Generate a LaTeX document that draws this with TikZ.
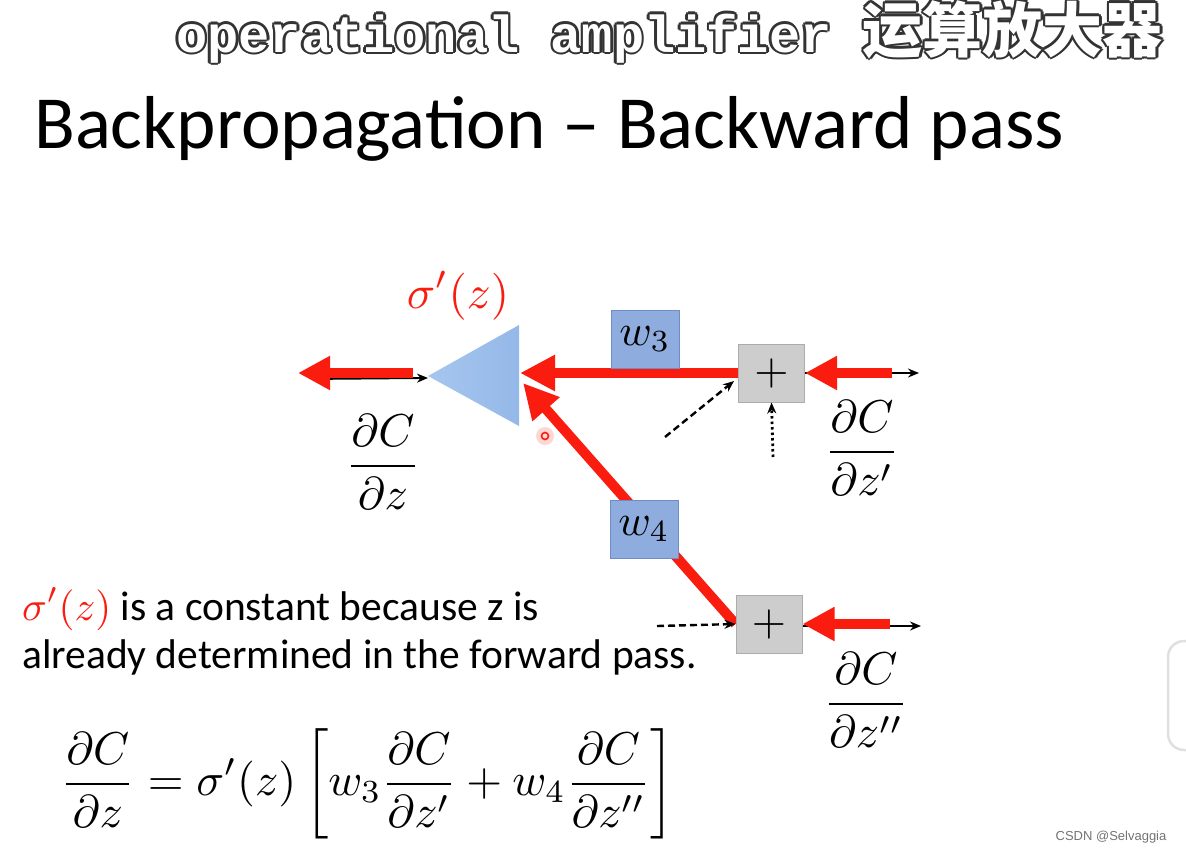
\documentclass[tikz,border=0pt]{standalone}
\usepackage{amsmath}
\usepackage{graphicx}
\usepackage{fontspec}
\setmainfont{Carlito}
\newfontfamily\hdrmono{Liberation Mono}
\newfontfamily\cjk{Noto Sans CJK SC}
\newfontfamily\wmfont{Liberation Sans}
\usetikzlibrary{arrows.meta,backgrounds,calc}
\definecolor{rd}{RGB}{250,28,15}
\definecolor{bfill}{RGB}{143,172,222}
\definecolor{bdraw}{RGB}{110,140,200}
\definecolor{gfill}{RGB}{205,205,205}
\definecolor{gdraw}{RGB}{172,172,172}
\definecolor{triL}{RGB}{166,198,238}
\definecolor{triR}{RGB}{148,184,232}
\newcommand\mth[2]{\scalebox{#1}{\normalsize$\displaystyle #2$}}
\newcommand\hdrtext{{\hdrmono\bfseries\fontsize{52}{54}\selectfont operational amplifier }{\cjk\bfseries\fontsize{60}{62}\selectfont 运算放大器}}
\begin{document}
\begin{tikzpicture}[x=1pt,y=-1pt,
  wbox/.style={draw=bdraw,fill=bfill,line width=1pt,minimum width=68pt,minimum height=58pt,inner sep=0pt},
  pbox/.style={draw=gdraw,fill=gfill,line width=1pt,minimum width=66pt,minimum height=58pt,inner sep=0pt},
  redarr/.style={draw=rd,line width=10pt,-{Triangle[length=32pt,width=32pt]}},
  bigred/.style={draw=rd,line width=10pt,-{Triangle[length=35pt,width=34pt]}},
  thinarr/.style={draw=black,line width=1.8pt,-{Stealth[length=11pt,width=9pt]}},
  dasharr/.style={thinarr,line width=2.4pt,dash pattern=on 7pt off 4pt},
  dotarr/.style={thinarr,line width=2.8pt,dash pattern=on 2.5pt off 3pt},
  mathnode/.style={inner sep=0pt},
  bodytext/.style={anchor=base west,inner sep=0pt,font=\fontsize{41.5}{44}\selectfont},
  hdr/.style={anchor=base west,inner sep=0pt},
]
\useasboundingbox (0,0) rectangle (1186,854);

% header with outline
\foreach \a in {0,45,...,315}{
  \node[hdr,text=black!80] (hdrs\a) at ($(176,52)+(\a:2.6)$) {\hdrtext};
}
\node[hdr,text=white] (hdr) at (176,52) {\hdrtext};

% title
\node[anchor=base west,inner sep=0pt,font=\fontsize{75}{80}\selectfont] (title) at (34,148) {Backpropagation -- Backward pass};

% nodes
\node[wbox] (w3) at (645,339) {\mth{4.4}{w_3}};
\node[wbox] (w4) at (644,529) {\mth{4.4}{w_4}};
\node[pbox] (p1) at (771.5,373) {\mth{4.4}{+}};
\node[pbox] (p2) at (769,624) {\mth{4.4}{+}};

\coordinate (apex) at (428,376);
\coordinate (triRt) at (520,373);
\coordinate (triD) at (523,383);
\coordinate (outEnd) at (298,373);
\coordinate (outStart) at (413,373);
\coordinate (fwdL) at (315,379);
\coordinate (fwdR) at (428,378);
\coordinate (out1) at (919,373);
\coordinate (in1) at (892,373);
\coordinate (in2) at (890,624);
\coordinate (out2) at (921,626);
\coordinate (d1) at (665,437);
\coordinate (d1e) at (734,381);
\coordinate (dot1) at (773,457);
\coordinate (d2) at (657,626);

\begin{scope}[on background layer]
  \shade[left color=triL,right color=triR] (apex) -- (519,325) -- (519,426) -- cycle;
  \draw[thinarr] (fwdL) -- (fwdR);
  \draw[redarr] (outStart) -- (outEnd);
  \draw[bigred] (p1.west) -- (triRt);
  \draw[bigred] (p2.west) -- (triD);
  \draw[thinarr] (p1.east) -- (out1);
  \draw[thinarr] (p2.east |- out2) -- (out2);
  \draw[redarr] (in1) -- (p1.east);
  \draw[redarr] (in2) -- (p2.east);
\end{scope}

\draw[dasharr] (d1) -- (d1e);
\draw[dotarr] (dot1) -- (p1.south);
\draw[dasharr] (d2) -- (p2.west);

% labels
\node[mathnode,text=rd] (sig) at (458,296) {\mth{4.7}{\sigma'(z)}};
\node[mathnode] (fz) at (383,462) {\mth{4.6}{\frac{\partial C}{\partial z}}};
\node[mathnode] (fz1) at (862,448) {\mth{4.6}{\frac{\partial C}{\partial z'}}};
\node[mathnode] (fz2) at (866,700) {\mth{4.6}{\frac{\partial C}{\partial z''}}};

% body text
\node[bodytext] (t1) at (22,620) {\textcolor{rd}{\mth{4.1}{\sigma'(z)}} is a constant because z is};
\node[bodytext] (t2) at (22,668) {already determined in the forward pass.};

% equation
\node[mathnode] (eq) at (368,784) {\mth{4.6}{\frac{\partial C}{\partial z}=\sigma'(z)\left[w_3\frac{\partial C}{\partial z'}+w_4\frac{\partial C}{\partial z''}\right]}};

% laser dot
\fill[rd,opacity=0.18] (545,436) circle (9pt);
\draw[rd,line width=1.6pt] (545,436) circle (3.5pt);

% UI artefacts
\draw[black!12,line width=2.5pt,fill=white,rounded corners=16pt] (1168,641) rectangle (1215,750);
\node[font=\wmfont\fontsize{13}{15}\selectfont,text=black!55,inner sep=0pt] (wm) at (1111,837) {CSDN @Selvaggia};
\end{tikzpicture}
\end{document}
